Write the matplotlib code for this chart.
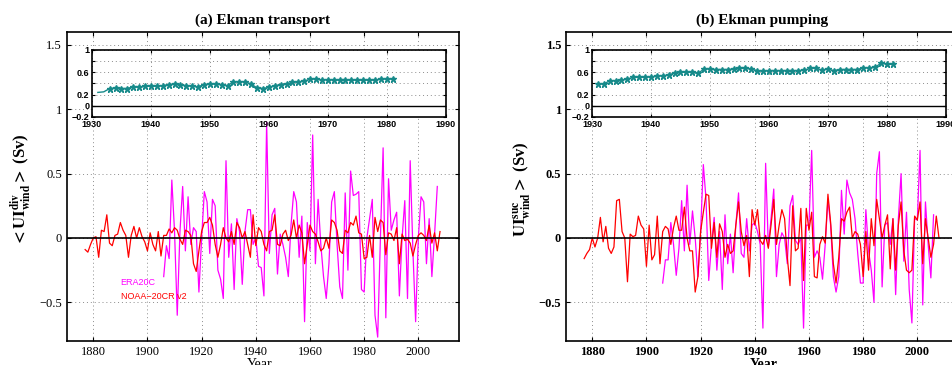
import numpy as np
import matplotlib.pyplot as plt

plt.rcParams['mathtext.fontset'] = 'stix'

# annual series (Sv)
years_noaa = np.arange(1877, 2009)
years_era_a = np.arange(1906, 2008)
years_era_b = np.arange(1906, 2007)

noaa_transport = [
    -0.09, -0.11, -0.05, 0.00, 0.01, -0.15, 0.06, 0.05, 0.18, -0.04,
    -0.06, 0.02, 0.03, 0.12, 0.06, 0.02, -0.15, 0.02, 0.09, 0.00,
    0.08, 0.01, -0.03, -0.10, 0.04, -0.05, -0.10, 0.05, -0.14, 0.02,
    0.02, 0.07, 0.04, 0.08, 0.06, -0.01, -0.05, 0.06, 0.05, 0.02,
    -0.20, -0.26, -0.10, 0.05, 0.12, 0.12, 0.16, 0.10, -0.05, -0.15,
    -0.05, 0.08, 0.00, -0.03, 0.05, -0.05, 0.12, 0.08, 0.00, 0.05,
    -0.05, -0.15, 0.18, -0.06, 0.08, 0.05, -0.05, -0.10, 0.05, 0.06,
    0.18, -0.05, -0.06, 0.03, 0.06, -0.02, 0.02, 0.14, 0.00, 0.10,
    0.04, -0.20, -0.05, 0.10, 0.05, 0.03, -0.03, -0.10, -0.08, 0.00,
    -0.08, 0.14, 0.12, 0.06, -0.10, -0.12, 0.06, 0.04, 0.12, 0.10,
    0.17, 0.04, 0.03, -0.16, -0.15, 0.02, -0.15, 0.16, 0.05, 0.14,
    0.12, -0.13, 0.04, 0.03, -0.02, 0.08, -0.20, 0.03, -0.02, -0.01,
    -0.04, -0.14, -0.05, 0.02, 0.04, 0.02, -0.02, 0.10, -0.04, 0.04,
    -0.10, 0.05]

era_transport = [
    -0.30, -0.06, -0.16, 0.45, 0.05, -0.60, 0.05, 0.40, -0.10, 0.32,
    -0.05, 0.08, 0.05, -0.42, 0.00, 0.36, 0.28, -0.12, 0.30, 0.25,
    -0.25, -0.32, -0.47, 0.60, -0.15, 0.11, -0.40, 0.15, 0.05, -0.36,
    0.05, 0.22, 0.22, -0.05, 0.00, -0.22, -0.23, -0.45, 0.90, -0.12,
    0.18, 0.23, -0.28, 0.03, -0.05, -0.15, -0.30, 0.10, 0.36, 0.28,
    -0.15, 0.17, -0.65, 0.12, -0.10, 0.80, -0.20, 0.30, -0.05, -0.30,
    -0.47, -0.20, 0.28, 0.36, -0.05, -0.38, -0.47, 0.35, -0.25, 0.52,
    0.33, 0.34, 0.36, -0.40, -0.42, 0.00, 0.15, 0.30, -0.60, -0.77,
    0.00, 0.70, -0.62, 0.46, 0.06, 0.14, 0.20, -0.45, 0.00, 0.29,
    -0.47, 0.60, -0.10, -0.65, 0.00, 0.32, 0.28, -0.20, 0.15, -0.30,
    0.03, 0.40]

noaa_pumping = [
    -0.16, -0.12, -0.09, 0.00, -0.07, 0.00, 0.16, -0.03, 0.09, -0.08,
    -0.12, -0.07, 0.29, 0.30, 0.05, 0.00, -0.34, 0.03, 0.01, 0.02,
    0.17, 0.10, 0.07, -0.22, 0.10, -0.17, -0.13, 0.17, -0.20, 0.05,
    0.09, 0.07, -0.05, 0.08, 0.17, 0.06, 0.06, 0.24, 0.00, -0.10,
    -0.10, -0.42, -0.30, 0.05, 0.20, 0.34, 0.33, -0.08, 0.12, -0.15,
    0.11, 0.05, -0.15, -0.05, -0.12, -0.10, 0.10, 0.28, 0.05, -0.06,
    0.02, -0.30, 0.22, 0.10, 0.22, -0.02, -0.05, 0.02, -0.08, 0.10,
    0.30, -0.05, 0.10, 0.22, 0.15, -0.15, -0.37, 0.25, -0.10, -0.08,
    0.23, -0.33, 0.23, 0.06, 0.20, -0.30, -0.31, -0.05, 0.01, -0.04,
    0.34, 0.12, -0.20, -0.35, -0.15, 0.15, 0.13, 0.20, 0.24, 0.00,
    0.05, 0.03, -0.05, -0.30, 0.05, -0.25, 0.15, -0.06, 0.30, 0.15,
    0.00, 0.10, 0.18, -0.24, 0.15, -0.25, 0.10, 0.28, -0.10, -0.25,
    -0.27, -0.25, 0.17, 0.14, 0.28, -0.20, 0.15, 0.00, -0.15, -0.05,
    0.17, 0.00]

era_pumping = [
    -0.35, -0.17, -0.17, 0.12, -0.05, -0.29, -0.08, 0.29, -0.10, 0.41,
    -0.05, 0.21, 0.00, -0.30, 0.05, 0.57, 0.30, -0.33, -0.05, 0.16,
    -0.25, 0.05, -0.40, 0.18, -0.20, 0.03, -0.27, 0.10, 0.35, -0.12,
    -0.15, 0.15, -0.10, 0.10, 0.12, 0.05, -0.05, -0.70, 0.58, -0.07,
    0.15, 0.38, -0.30, -0.05, 0.04, 0.00, -0.20, 0.25, 0.33, -0.02,
    -0.05, 0.00, -0.70, 0.10, 0.10, 0.68, -0.15, -0.10, -0.15, -0.32,
    -0.05, 0.30, 0.10, -0.30, -0.42, -0.30, 0.37, 0.03, 0.45, 0.35,
    0.30, 0.15, -0.12, -0.35, -0.35, 0.22, -0.10, -0.25, -0.50, 0.50,
    0.67, -0.38, 0.10, 0.12, -0.05, 0.15, -0.44, 0.15, 0.50, -0.18,
    0.20, -0.40, -0.66, 0.15, 0.14, 0.68, -0.52, 0.28, -0.05, -0.31,
    0.18]

# moving correlations
corr_years_a = np.arange(1931, 1982)
corr_a = [0.24, 0.25,
          0.31, 0.32, 0.31, 0.31, 0.34, 0.33, 0.35, 0.35, 0.35, 0.36,
          0.38, 0.39, 0.38, 0.36, 0.35, 0.34, 0.38, 0.39, 0.39, 0.38,
          0.36, 0.43, 0.43, 0.43, 0.39, 0.32, 0.31, 0.33, 0.36, 0.38,
          0.39, 0.42, 0.43, 0.44, 0.48, 0.48, 0.46, 0.47, 0.46, 0.46,
          0.46, 0.46, 0.46, 0.46, 0.46, 0.46, 0.48, 0.48, 0.48]
corr_years_b = np.arange(1931, 1982)
corr_b = [0.39, 0.39, 0.45, 0.45, 0.46, 0.48, 0.51, 0.51, 0.51, 0.52,
          0.53, 0.54, 0.55, 0.59, 0.60, 0.60, 0.60, 0.58, 0.66, 0.66,
          0.65, 0.65, 0.65, 0.66, 0.67, 0.67, 0.66, 0.63, 0.62, 0.63,
          0.63, 0.63, 0.63, 0.63, 0.63, 0.64, 0.67, 0.67, 0.64, 0.66,
          0.63, 0.65, 0.65, 0.65, 0.65, 0.68, 0.68, 0.69, 0.76, 0.75,
          0.74]

serif = 'Liberation Serif'
sans = 'Liberation Sans'
teal = '#178a8a'
grid_kw = dict(color='0.55', linestyle=(0, (1, 3)), linewidth=0.7)

fig = plt.figure(figsize=(9.53, 3.65), dpi=100)


def panel(left, inset_left, noaa, years_era, era, cyears, corr, marker_from,
          title, ylabel, bold, legend):
    ax = fig.add_axes([left, 0.0658, 0.4113, 0.8466])
    ax.plot(years_noaa, noaa, color='#ff0000', lw=0.9, zorder=3)
    ax.plot(years_era, era, color='#ff00ff', lw=0.9, zorder=2)
    ax.axhline(0, color='black', lw=1.2, zorder=4)
    ax.set_xlim(1870.3, 2015)
    ax.set_ylim(-0.8, 1.6)
    ax.set_xticks([1880, 1900, 1920, 1940, 1960, 1980, 2000])
    ax.set_yticks([-0.5, 0, 0.5, 1, 1.5])
    ax.set_yticklabels(['\u22120.5', '0', '0.5', '1', '1.5'])
    ax.grid(True, **grid_kw)
    ax.tick_params(direction='in', length=3, top=True, right=True, width=0.8)
    fw = 'bold' if bold else 'normal'
    for lab in ax.get_xticklabels() + ax.get_yticklabels():
        lab.set_fontfamily(serif)
        lab.set_fontsize(9)
        lab.set_fontweight(fw)
    for s in ax.spines.values():
        s.set_linewidth(1.2)
    ax.set_title(title, fontfamily=serif, fontweight='bold', fontsize=11, pad=6)
    ax.set_ylabel(ylabel, fontfamily=serif, fontweight='bold', fontsize=12)
    ax.yaxis.set_label_coords(-0.085, 0.49)
    ax.text(0.5, 0.935, 'moving correlation', transform=ax.transAxes,
            ha='center', va='center', fontfamily=sans, fontweight='bold', fontsize=6)
    if legend:
        ax.text(0.137, 0.19, 'ERA20C', color='#ff00ff', transform=ax.transAxes,
                fontfamily=sans, fontsize=6.5, va='center')
        ax.text(0.137, 0.145, 'NOAA\u221220CR v2', color='#ff0000', transform=ax.transAxes,
                fontfamily=sans, fontsize=6.5, va='center')

    ins = fig.add_axes([inset_left, 0.6795, 0.3712, 0.1836])
    ins.plot(cyears, corr, color=teal, lw=1.0, marker='*', ms=5,
             markevery=list(range(marker_from, len(corr))))
    ins.axhline(0, color='black', lw=1.0)
    ins.set_xlim(1930, 1990)
    ins.set_ylim(-0.2, 1)
    ins.set_xticks(range(1930, 1991, 10))
    ins.set_yticks([-0.2, 0, 0.2, 0.4, 0.6, 0.8, 1])
    ins.set_yticklabels(['\u22120.2', '0', '0.2', '', '0.6', '', '1'])
    ins.grid(True, **grid_kw)
    ins.tick_params(direction='in', length=2.5, top=True, right=True, pad=2)
    for lab in ins.get_xticklabels() + ins.get_yticklabels():
        lab.set_fontfamily(sans)
        lab.set_fontsize(6.5)
        lab.set_fontweight('bold')
    for s in ins.spines.values():
        s.set_linewidth(1.2)
    return ax


panel(0.0703, 0.0965, noaa_transport, years_era_a, era_transport,
      corr_years_a, corr_a, 2, '(a) Ekman transport',
      r'$\mathbf{<UI^{div}_{wind}>}$ (Sv)', False, True)
panel(0.5939, 0.6212, noaa_pumping, years_era_b, era_pumping,
      corr_years_b, corr_b, 0, '(b) Ekman pumping',
      r'$\mathbf{UI^{suc}_{wind}>}$ (Sv)', True, False)

fig.text(0.272, 0.0, 'Year', ha='center', va='center', fontfamily=serif, fontsize=10)
fig.text(0.801, 0.0, 'Year', ha='center', va='center', fontfamily=serif,
         fontsize=10, fontweight='bold')

fig.savefig('out.png', dpi=100)
